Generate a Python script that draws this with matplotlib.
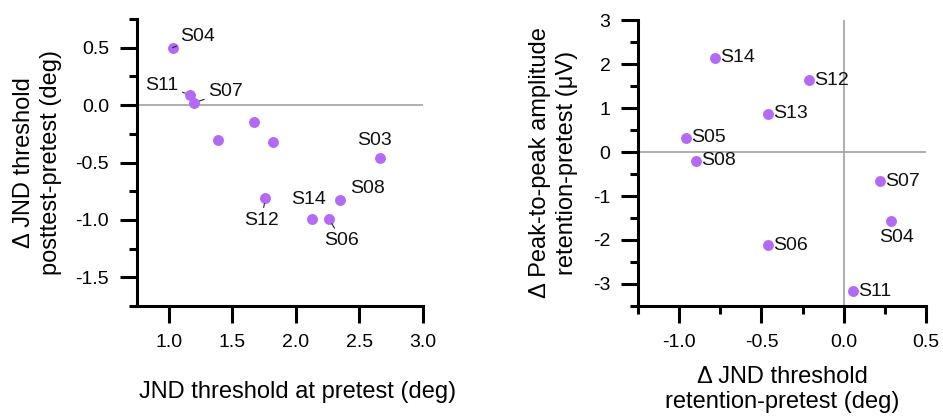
import matplotlib
matplotlib.use("Agg")
import matplotlib.pyplot as plt
from matplotlib.ticker import MultipleLocator, FormatStrFormatter

plt.rcParams['font.family'] = ['Liberation Sans', 'DejaVu Sans']

# ---- Left panel data ----
left_x = [1.03, 1.17, 1.20, 1.39, 1.67, 1.82, 1.76, 2.13, 2.26, 2.35, 2.66]
left_y = [0.50, 0.09, 0.02, -0.30, -0.15, -0.32, -0.81, -0.99, -0.99, -0.83, -0.46]
left_labels = ['S04', 'S11', 'S07', '', '', '', 'S12', 'S14', 'S06', 'S08', 'S03']

# ---- Right panel data ----
right_x = [-0.78, -0.21, -0.46, -0.96, -0.90, 0.22, 0.29, -0.46, 0.06]
right_y = [2.14, 1.63, 0.87, 0.32, -0.20, -0.67, -1.56, -2.12, -3.16]
right_labels = ['S14', 'S12', 'S13', 'S05', 'S08', 'S07', 'S04', 'S06', 'S11']

# ---- Layout (label offsets in pixels, ha, leader line) ----
left_layout = {
    'S04': (8, 11, 'left', True),
    'S11': (-12, 9, 'right', True),
    'S07': (14, 11, 'left', True),
    'S03': (-5, 17, 'center', False),
    'S08': (27, 12, 'center', False),
    'S14': (-4, 19, 'center', False),
    'S12': (-4, -22, 'center', True),
    'S06': (13, -22, 'center', True),
}
right_layout = {'S04': (5, -17, 'center', False)}

DOT = '#B36BF6'
FS_TICK = 14
FS_ANN = 14
FS_LAB = 17

fig = plt.figure(figsize=(9.43, 4.17), dpi=100)
axL = fig.add_axes([0.1453, 0.2662, 0.3033, 0.6882])
axR = fig.add_axes([0.6769, 0.2662, 0.3047, 0.6858])


def style(ax):
    for s in ['top', 'right']:
        ax.spines[s].set_visible(False)
    for s in ['left', 'bottom']:
        ax.spines[s].set_linewidth(2.2)
    ax.tick_params(which='major', length=12, width=2.2, labelsize=FS_TICK, pad=8)
    ax.tick_params(which='minor', length=6, width=2.2)
    ax.tick_params(axis='x', which='major', pad=8)


px = 0.72  # points per pixel at 100 dpi

# Left
style(axL)
axL.set_xlim(0.75, 3.0)
axL.set_ylim(-1.75, 0.75)
axL.set_xticks([1.0, 1.5, 2.0, 2.5, 3.0])
axL.yaxis.set_major_locator(MultipleLocator(0.5))
axL.yaxis.set_minor_locator(MultipleLocator(0.25))
axL.xaxis.set_major_formatter(FormatStrFormatter('%.1f'))
axL.yaxis.set_major_formatter(FormatStrFormatter('%.1f'))
axL.axhline(0, color='#A8A8A8', lw=1.3, zorder=1)
axL.scatter(left_x, left_y, s=62, color=DOT, zorder=3, linewidths=0)
for x, y, lab in zip(left_x, left_y, left_labels):
    if not lab:
        continue
    dx, dy, ha, lead = left_layout[lab]
    kw = {}
    if lead:
        kw['arrowprops'] = dict(arrowstyle='-', color='#222222', lw=0.8,
                                shrinkA=1, shrinkB=4)
    axL.annotate(lab, (x, y), xytext=(dx * px, dy * px), textcoords='offset points',
                 ha=ha, va='center', fontsize=FS_ANN, color='#111111', **kw)
axL.set_xlabel('JND threshold at pretest (deg)', fontsize=FS_LAB)
axL.xaxis.set_label_coords(0.56, -0.26)
axL.set_ylabel('\u0394 JND threshold\nposttest-pretest (deg)', fontsize=FS_LAB,
               labelpad=10, linespacing=1.3)

# Right
style(axR)
axR.set_xlim(-1.25, 0.5)
axR.set_ylim(-3.5, 3.0)
axR.set_xticks([-1.0, -0.5, 0.0, 0.5])
axR.xaxis.set_minor_locator(MultipleLocator(0.25))
axR.yaxis.set_major_locator(MultipleLocator(1))
axR.yaxis.set_minor_locator(MultipleLocator(0.5))
axR.xaxis.set_major_formatter(FormatStrFormatter('%.1f'))
axR.yaxis.set_major_formatter(FormatStrFormatter('%d'))
axR.axhline(0, color='#A8A8A8', lw=1.3, zorder=1)
axR.axvline(0, color='#A8A8A8', lw=1.3, zorder=1)
axR.scatter(right_x, right_y, s=62, color=DOT, zorder=3, linewidths=0)
for x, y, lab in zip(right_x, right_y, right_labels):
    dx, dy, ha, lead = right_layout.get(lab, (5, 0, 'left', False))
    axR.annotate(lab, (x, y), xytext=(dx * px, dy * px), textcoords='offset points',
                 ha=ha, va='center', fontsize=FS_ANN, color='#111111')
axR.set_xlabel('\u0394 JND threshold\nretention-pretest (deg)', fontsize=FS_LAB,
               labelpad=11, linespacing=1.15)
axR.set_ylabel('\u0394 Peak-to-peak amplitude\nretention-pretest (\u03bcV)', fontsize=FS_LAB,
               labelpad=11, linespacing=1.3)

fig.savefig('out.png', dpi=100)
